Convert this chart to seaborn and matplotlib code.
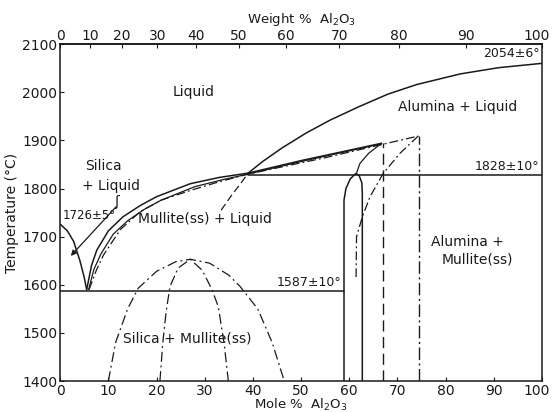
import numpy as np
import pandas as pd
import matplotlib
matplotlib.use("Agg")
import matplotlib.pyplot as plt
import matplotlib.transforms as mtransforms
import seaborn as sns

# ---------------- data (mole % Al2O3, temperature °C) ----------------
silica_liq_x = [0.0, 1.5, 2.8, 4.1, 5.0, 5.5]
silica_liq_t = [1726, 1712, 1690, 1650, 1615, 1590]

mull_liq_a_x = [5.5, 6.5, 7.6, 10.0, 13.0, 16.5, 20.0, 27.0, 33.0, 39.0, 50.0, 66.7]
mull_liq_a_t = [1590, 1640, 1672, 1712, 1741, 1764, 1783, 1810, 1823, 1832, 1858, 1894]

mull_liq_b_x = [5.9, 7.0, 8.5, 11.0, 14.0, 17.5, 21.0, 28.0, 34.0, 39.0, 50.0, 66.7]
mull_liq_b_t = [1590, 1632, 1665, 1705, 1733, 1757, 1776, 1804, 1819, 1830, 1856, 1893]

mull_liq_c_x = [6.0, 7.5, 9.0, 12.5, 16.6, 21.0, 27.0, 33.0, 39.0, 55.0, 74.3]
mull_liq_c_t = [1590, 1630, 1662, 1715, 1752, 1776, 1796, 1814, 1830, 1864, 1909]

alumina_liq_x = [39.0, 42.0, 46.0, 51.0, 56.0, 62.0, 68.0, 74.0, 83.0, 91.0, 100.0]
alumina_liq_t = [1832, 1856, 1884, 1915, 1942, 1970, 1996, 2016, 2038, 2051, 2060]

alumina_meta_x = [33.4, 35.5, 37.5, 39.0]
alumina_meta_t = [1755, 1785, 1811, 1832]

mullite_ss_x = [58.9, 58.9, 59.3, 60.2, 61.3, 62.0, 62.6, 62.7, 62.7]
mullite_ss_t = [1400, 1776, 1800, 1820, 1831, 1828, 1812, 1790, 1400]

mullite_top_x = [61.5, 62.2, 64.0, 66.7]
mullite_top_t = [1832, 1852, 1873, 1894]

mullite_meta_x = [74.3, 70.5, 67.0, 64.3, 62.7, 61.5, 61.4]
mullite_meta_t = [1909, 1873, 1831, 1783, 1741, 1700, 1613]

vert_dash_x = [66.9, 66.9]
vert_dash_t = [1400, 1894]
vert_dashdot_x = [74.5, 74.5]
vert_dashdot_t = [1400, 1909]

iso_1828_x = [39.0, 100.0]
iso_1828_t = [1828, 1828]
iso_1587_x = [0.0, 58.9]
iso_1587_t = [1587, 1587]

dome_outer_x = [10.0, 11.5, 14.0, 16.2, 20.0, 24.0, 27.0, 31.0, 35.0, 37.3, 41.0, 44.0, 46.5]
dome_outer_t = [1400, 1480, 1550, 1593, 1628, 1648, 1653, 1645, 1620, 1597, 1550, 1480, 1400]

dome_inner_x = [20.7, 21.3, 22.0, 22.8, 24.5, 27.0, 29.5, 31.5, 32.8, 34.0, 34.9]
dome_inner_t = [1400, 1480, 1545, 1597, 1635, 1653, 1630, 1590, 1555, 1480, 1400]

y_ticks = [1400, 1500, 1600, 1700, 1800, 1900, 2000, 2100]
x_ticks = [0, 10, 20, 30, 40, 50, 60, 70, 80, 90, 100]
wt_ticks = [0, 10, 20, 30, 40, 50, 60, 70, 80, 90, 100]

M_AL2O3 = 101.96
M_SIO2 = 60.08


def mol_to_wt(m):
    m = np.asarray(m, dtype=float)
    a = m * M_AL2O3
    s = (100.0 - m) * M_SIO2
    return 100.0 * a / np.where(a + s == 0, 1, a + s)


def wt_to_mol(w):
    w = np.asarray(w, dtype=float)
    a = w / M_AL2O3
    s = (100.0 - w) / M_SIO2
    return 100.0 * a / np.where(a + s == 0, 1, a + s)


# ---------------- figure ----------------
sns.set_theme(style="ticks")
plt.rcParams["font.family"] = ["DejaVu Sans"]
ink = "#1a1a1a"

fig = plt.figure(figsize=(5.52, 4.12), dpi=100)
ax = fig.add_axes([0.109, 0.075, 0.873, 0.818])


def draw(xs, ts, ls="-", lw=1.1):
    df = pd.DataFrame({"x": xs, "t": ts})
    sns.lineplot(data=df, x="x", y="t", sort=False, estimator=None, ax=ax,
                 color=ink, linewidth=lw, linestyle=ls)


draw(silica_liq_x, silica_liq_t)
draw(mull_liq_a_x, mull_liq_a_t)
draw(mull_liq_b_x, mull_liq_b_t, lw=0.9)
draw(mull_liq_c_x, mull_liq_c_t, ls=(0, (7, 2.5, 1.5, 2.5)), lw=0.9)
draw(alumina_liq_x, alumina_liq_t)
draw(alumina_meta_x, alumina_meta_t, ls=(0, (6, 3)), lw=0.9)
draw(mullite_ss_x, mullite_ss_t)
draw(mullite_top_x, mullite_top_t, lw=0.9)
draw(mullite_meta_x, mullite_meta_t, ls=(0, (7, 2.5, 1.5, 2.5)), lw=0.9)
draw(vert_dash_x, vert_dash_t, ls=(0, (8, 4)), lw=1.0)
draw(vert_dashdot_x, vert_dashdot_t, ls=(0, (9, 2.5, 1.5, 2.5)), lw=1.0)
draw(iso_1828_x, iso_1828_t)
draw(iso_1587_x, iso_1587_t)
draw(dome_outer_x, dome_outer_t, ls=(0, (8, 3, 1.5, 3)), lw=0.9)
draw(dome_inner_x, dome_inner_t, ls=(0, (8, 3, 1.5, 3)), lw=0.9)

ax.set_xlim(0, 100)
ax.set_ylim(1400, 2100)
ax.set_xticks(x_ticks)
ax.set_yticks(y_ticks)
ax.tick_params(axis="both", direction="in", length=3, width=0.8,
               labelsize=10, colors=ink, pad=2)
for sp in ax.spines.values():
    sp.set_color(ink)
    sp.set_linewidth(1.1)
    sp.set_visible(True)

ax.set_xlabel("Mole %  Al$_2$O$_3$", fontsize=9.5, color=ink, labelpad=-1)
ax.set_ylabel("Temperature (°C)", fontsize=10, color=ink, labelpad=2)

top = ax.secondary_xaxis("top", functions=(mol_to_wt, wt_to_mol))
top.set_xticks(wt_ticks)
top.tick_params(direction="in", length=3, width=0.8, labelsize=10,
                colors=ink, pad=1)
top.set_xlabel("Weight %  Al$_2$O$_3$", fontsize=9.5, color=ink, labelpad=4)

# keep the right-most "100" labels inside the canvas
shift = mtransforms.ScaledTranslation(-5 / 100, 0, fig.dpi_scale_trans)
for lab in [ax.get_xticklabels()[-1], top.get_xticklabels()[-1]]:
    lab.set_transform(lab.get_transform() + shift)

# ---------------- labels ----------------
fs = 10
ax.text(27.6, 2000, "Liquid", fontsize=fs, color=ink, ha="center", va="center")
ax.text(82.5, 1970, "Alumina + Liquid", fontsize=fs, color=ink, ha="center", va="center")
ax.text(9.0, 1847, "Silica", fontsize=fs, color=ink, ha="center", va="center")
ax.text(10.5, 1806, "+ Liquid", fontsize=fs, color=ink, ha="center", va="center")
ax.text(0.6, 1744, "1726±5°", fontsize=8.5, color=ink, ha="left", va="center")
ax.text(30.0, 1736, "Mullite(ss) + Liquid", fontsize=fs, color=ink, ha="center", va="center")
ax.text(58.3, 1604, "1587±10°", fontsize=9, color=ink, ha="right", va="center")
ax.text(99.5, 1832, "1828±10°", fontsize=9, color=ink, ha="right", va="bottom")
ax.text(99.5, 2081, "2054±6°", fontsize=9, color=ink, ha="right", va="center")
ax.text(84.5, 1688, "Alumina +", fontsize=fs, color=ink, ha="center", va="center")
ax.text(86.5, 1652, "Mullite(ss)", fontsize=fs, color=ink, ha="center", va="center")
ax.text(26.3, 1489, "Silica + Mullite(ss)", fontsize=fs, color=ink, ha="center", va="center")

ax.annotate("", xy=(2.2, 1660), xytext=(11.6, 1762),
            arrowprops=dict(arrowstyle="-|>", color=ink, lw=0.9,
                            mutation_scale=8, shrinkA=0, shrinkB=0))
ax.text(11.8, 1772, "ʃ", fontsize=10, color=ink, ha="center", va="center")

fig.savefig("out.png", dpi=100)
